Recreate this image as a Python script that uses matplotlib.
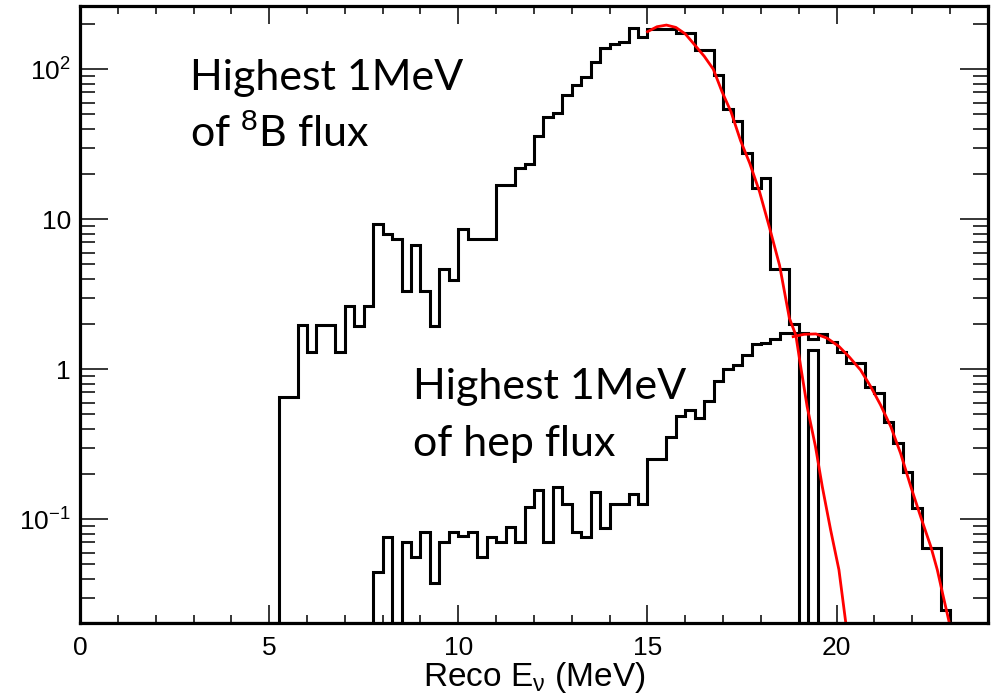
import numpy as np
import matplotlib
matplotlib.use("Agg")
import matplotlib.pyplot as plt
from matplotlib.ticker import FixedLocator, FixedFormatter, NullFormatter, MultipleLocator

# ---------------- data ----------------
bin_width = 0.25
x_min, x_max = 0.0, 24.0

# 8B spectrum (96 bins of 0.25 MeV, 0..24 MeV)
b8_counts = [0.0] * 21 + [
    0.656, 0.656, 1.98, 1.31, 1.98, 1.98, 1.31, 2.65, 1.95, 2.65,      # 5.25 - 7.75
    9.3, 7.96, 7.4, 3.3, 6.7, 3.3, 1.95, 4.66, 3.93,                   # 7.75 - 10.0
    8.6, 7.4, 7.4, 7.4, 16.9, 16.9, 22.1, 23.3,                        # 10.0 - 12.0
    36.0, 47.7, 50.7, 67.3, 78.8, 88.2, 112.0, 137.6,                  # 12.0 - 14.0
    147.0, 152.5, 187.0, 163.0,                                        # 14.0 - 15.0
    186.0, 186.0, 186.0, 175.0, 175.0, 135.0, 135.0, 92.0,             # 15.0 - 17.0
    54.0, 44.9, 27.7, 16.1, 18.8, 4.65, 4.65, 2.0,                     # 17.0 - 19.0
    0.0, 1.35,                                                         # 19.0 - 19.5
] + [0.0] * 18

# hep spectrum
hep_counts = [0.0] * 31 + [
    0.0442, 0.0756, 0.0, 0.070, 0.0556, 0.0817, 0.0375, 0.070, 0.0817,  # 7.75 - 10.0
    0.0768, 0.0817, 0.0556, 0.0756, 0.070, 0.0882, 0.070, 0.120,        # 10.0 - 12.0
    0.156, 0.070, 0.165, 0.126, 0.0817, 0.0756, 0.152, 0.0873,          # 12.0 - 14.0
    0.126, 0.126, 0.147, 0.126,                                         # 14.0 - 15.0
    0.252, 0.252, 0.355, 0.49, 0.535, 0.472, 0.617, 0.838,              # 15.0 - 17.0
    1.0, 1.07, 1.25, 1.48, 1.49, 1.58, 1.74, 1.74,                      # 17.0 - 19.0
    1.74, 1.58, 1.72, 1.52, 1.31, 1.10, 1.10, 0.759,                    # 19.0 - 21.0
    0.692, 0.448, 0.324, 0.208, 0.118, 0.064, 0.064, 0.0248,            # 21.0 - 23.0
] + [0.0] * 4

# fitted curves
b8_fit_x = [15.0, 15.25, 15.5, 15.75, 16.0, 16.23, 16.5, 16.74, 16.97, 17.21,
            17.46, 17.70, 17.96, 18.23, 18.49, 18.75, 18.92, 19.05, 19.22,
            19.44, 19.62, 19.84, 20.06, 20.24]
b8_fit_y = [178, 192, 197, 190, 172, 147, 122, 100, 70.8, 51.8,
            33.4, 23.7, 15.3, 8.7, 4.94, 2.19, 1.69, 1.04, 0.563,
            0.305, 0.165, 0.085, 0.046, 0.0205]

hep_fit_x = [18.85, 19.14, 19.45, 19.75, 20.06, 20.33, 20.63, 20.90, 21.16,
             21.43, 21.69, 21.96, 22.22, 22.49, 22.66, 22.80, 22.97]
hep_fit_y = [1.65, 1.71, 1.72, 1.61, 1.42, 1.21, 0.99, 0.766, 0.578,
             0.415, 0.275, 0.165, 0.104, 0.0656, 0.046, 0.032, 0.0208]

y_ticks = [0.1, 1, 10, 100]
y_tick_labels = [r"$10^{-1}$", "1", "10", r"$10^{2}$"]
x_ticks = [0, 5, 10, 15, 20]
y_lim = (0.0205, 264)

label_b8 = ["Highest 1MeV", r"of $^{\mathrm{8}}$B flux"]
label_hep = ["Highest 1MeV", "of hep flux"]
x_title = r"Reco E$_{\mathrm{\nu}}$ (MeV)"

# ---------------- figure ----------------
plt.rcParams["font.family"] = ["Liberation Sans", "DejaVu Sans"]
plt.rcParams["mathtext.fontset"] = "custom"
plt.rcParams["mathtext.rm"] = "Liberation Sans"
plt.rcParams["mathtext.it"] = "Liberation Sans:italic"
plt.rcParams["mathtext.bf"] = "Liberation Sans:bold"
plt.rcParams["mathtext.sf"] = "Liberation Sans"

W, H = 1002, 698
fig = plt.figure(figsize=(W / 100, H / 100), dpi=100)
L, R, T, B = 80, 988, 6, 622.5
ax = fig.add_axes([L / W, 1 - B / H, (R - L) / W, (B - T) / H])

edges = np.arange(x_min, x_max + bin_width / 2, bin_width)
floor = y_lim[0]
b8_plot = np.where(np.array(b8_counts) > 0, b8_counts, floor)
hep_plot = np.where(np.array(hep_counts) > 0, hep_counts, floor)

ax.stairs(b8_plot, edges, baseline=None, color="black", lw=2.2)
ax.stairs(hep_plot, edges, baseline=None, color="black", lw=2.2)
ax.plot(b8_fit_x, b8_fit_y, color="red", lw=2.0)
ax.plot(hep_fit_x, hep_fit_y, color="red", lw=2.0)

ax.set_yscale("log")
ax.set_xlim(x_min, x_max)
ax.set_ylim(*y_lim)

ax.yaxis.set_major_locator(FixedLocator(y_ticks))
ax.yaxis.set_major_formatter(FixedFormatter(y_tick_labels))
ax.yaxis.set_minor_locator(FixedLocator(
    [m * 10.0 ** e for e in range(-2, 3) for m in range(2, 10)]))
ax.yaxis.set_minor_formatter(NullFormatter())
ax.xaxis.set_major_locator(FixedLocator(x_ticks))
ax.xaxis.set_minor_locator(MultipleLocator(1))

for s in ax.spines.values():
    s.set_linewidth(2.3)

ax.tick_params(axis="x", which="major", direction="in", length=13, width=1.1,
               top=True, bottom=True, labelsize=19, pad=10)
ax.tick_params(axis="x", which="minor", direction="in", length=6, width=1.1,
               top=True, bottom=True)
ax.tick_params(axis="y", which="major", direction="in", length=20, width=1.1,
               left=True, right=True, labelsize=19, pad=6.5)
ax.tick_params(axis="y", which="minor", direction="in", length=11, width=1.1,
               left=True, right=True)

ax.set_xlabel(x_title, fontsize=24)
ax.xaxis.set_label_coords(0.5, -(686 - B) / (B - T))
ax.xaxis.label.set_va("baseline")

txt_kw = dict(fontsize=31, family=["Lato", "DejaVu Sans"], va="baseline", ha="left")
fig.text(190 / W, 1 - 90 / H, label_b8[0], **txt_kw)
fig.text(190 / W, 1 - 147 / H, label_b8[1], **txt_kw)
fig.text(413 / W, 1 - 399 / H, label_hep[0], **txt_kw)
fig.text(413 / W, 1 - 456 / H, label_hep[1], **txt_kw)

fig.savefig("out.png", dpi=100)
